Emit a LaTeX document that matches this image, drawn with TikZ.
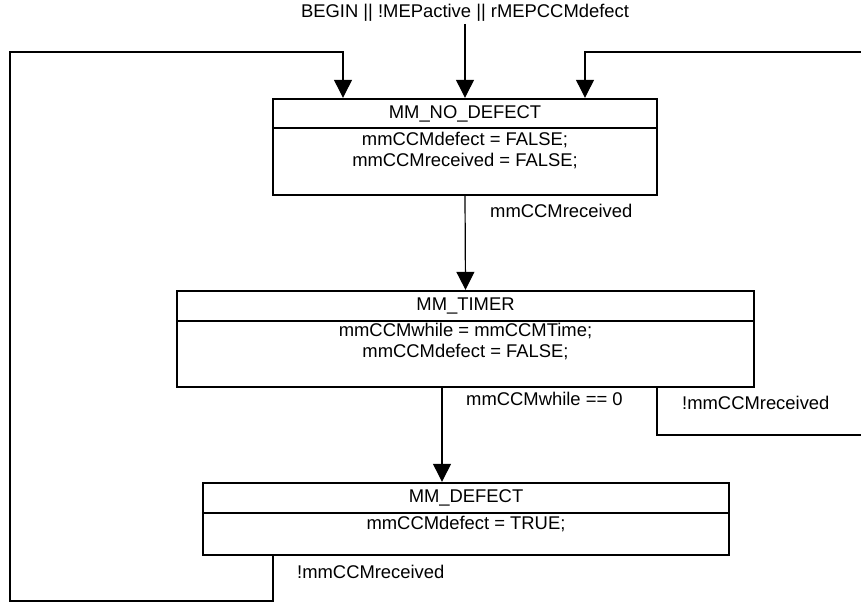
\documentclass[tikz,border=0pt]{standalone}
\usepackage{fontspec}
\setmainfont{Liberation Sans}
\usetikzlibrary{arrows.meta}

\tikzset{
  statebox/.style={draw, line width=2.4pt, inner sep=0pt},
  flow/.style={line width=1.2pt, -{Triangle[width=18pt,length=18pt]}},
  wire/.style={line width=1.2pt},
  rule/.style={line width=1.6pt},
  lbl/.style={anchor=west, inner sep=0pt},
  body/.style={align=center, font=\fontsize{18.4}{20.5}\selectfont},
}

\begin{document}
\begin{tikzpicture}[x=1pt,y=-1pt,font=\fontsize{18.4}{22}\selectfont]
\useasboundingbox (0,0) rectangle (861,603);

% state boxes
\node[statebox, minimum width=384pt, minimum height=96pt] (nodef) at (465,147) {};
\node[statebox, minimum width=577pt, minimum height=96pt] (timer) at (465.5,339) {};
\node[statebox, minimum width=526pt, minimum height=72pt] (defect) at (466,519) {};

\draw[rule] (nodef.west |- 0,128) -- (nodef.east |- 0,128);
\draw[rule] (timer.west |- 0,321) -- (timer.east |- 0,321);
\draw[rule] (defect.west |- 0,513) -- (defect.east |- 0,513);

\node (nodeftitle) at (465,114) {MM\_NO\_DEFECT};
\node[body] (nodefbody) at (465,150.5) {mmCCMdefect = FALSE;\\mmCCMreceived = FALSE;};
\node (timertitle) at (465.5,306) {MM\_TIMER};
\node[body] (timerbody) at (465.5,341.5) {mmCCMwhile = mmCCMTime;\\mmCCMdefect = FALSE;};
\node (defecttitle) at (466,498) {MM\_DEFECT};
\node (defectbody) at (466,524) {mmCCMdefect = TRUE;};

% entry
\node[inner sep=2pt] (start) at (465,13) {BEGIN || !MEPactive || rMEPCCMdefect};
\draw[flow] (start.south) -- (start.south |- nodef.north);

% transitions
\draw[flow] (nodef.south) -- (timer.north);
\node[lbl] (recv) at (490,211) {mmCCMreceived};

\draw[flow] (timer.south -| 442,0) -- (defect.north -| 442,0);
\node[lbl] (expire) at (466,399) {mmCCMwhile == 0};

\draw[wire] (timer.south -| 657,0) |- (861,435);
\node[lbl] (lostT) at (682,403) {!mmCCMreceived};
\draw[flow] (861,52) -| (nodef.north -| 585,0);

\coordinate (loopL) at (10,601);
\draw[flow] (defect.south -| 273,0) |- (loopL) |- (343,52) -- (nodef.north -| 343,0);
\node[lbl] (lostD) at (297,572) {!mmCCMreceived};
\end{tikzpicture}
\end{document}
